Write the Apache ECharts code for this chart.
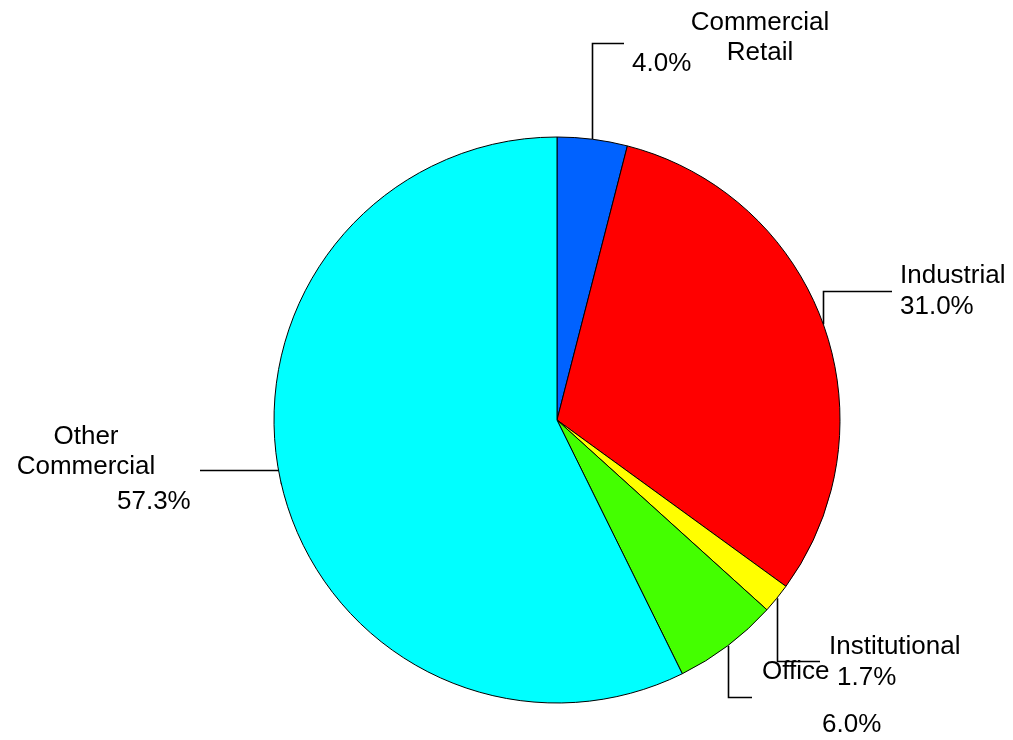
<!DOCTYPE html>
<html>
<head>
<meta charset="utf-8">
<script src="https://cdn.jsdelivr.net/npm/echarts@6/dist/echarts.min.js"></script>
<style>
html,body{margin:0;padding:0;background:#fff;}
#chart{width:1013px;height:740px;}
</style>
</head>
<body>
<div id="chart"></div>
<script>
// ---- data ----
const categories = ['Commercial\nRetail', 'Industrial', 'Institutional', 'Office', 'Other\nCommercial'];
const values = [4.0, 31.0, 1.7, 6.0, 57.3];
const colors = ['#0062FF', '#FF0000', '#FFFF00', '#44FF00', '#00FFFF'];

// ---- label layout (positions, separate from data) ----
const nameLabelPos = [
  {x: 760, y: 38, align: 'center'},
  {x: 900, y: 276, align: 'left'},
  {x: 829, y: 647, align: 'left'},
  {x: 762, y: 672, align: 'left'},
  {x: 86, y: 452, align: 'center'}
];
const pctLabelPos = [
  {x: 632, y: 64, align: 'left'},
  {x: 900, y: 307, align: 'left'},
  {x: 837, y: 678, align: 'left'},
  {x: 822, y: 725, align: 'left'},
  {x: 117, y: 502, align: 'left'}
];
const elbow = [
  {y: 43, x: 624},
  {y: 291, x: 892},
  {y: 661, x: 820},
  {y: 697, x: 752},
  {y: 470, x: 200}
];

const chart = echarts.init(document.getElementById('chart'), null, {renderer: 'canvas'});
const data = categories.map((c, i) => ({name: c, value: values[i], itemStyle: {color: colors[i]}}));
const textStyle = {fontFamily: 'Liberation Sans, Arial, sans-serif', fontSize: 26, color: '#000', lineHeight: 30};

chart.setOption({
  animation: false,
  backgroundColor: '#fff',
  series: [
    {
      type: 'pie',
      center: [557, 420],
      radius: 283,
      startAngle: 90,
      clockwise: true,
      avoidLabelOverlap: false,
      itemStyle: {borderColor: '#000', borderWidth: 1},
      emphasis: {disabled: true},
      label: Object.assign({show: true, position: 'outside', formatter: '{b}', align: 'center'}, textStyle),
      labelLine: {show: true, length: 10, length2: 10, lineStyle: {color: '#000', width: 1.6}},
      labelLayout: function (p) {
        const i = p.dataIndex;
        const pos = nameLabelPos[i];
        const res = {x: pos.x, y: pos.y, align: pos.align, verticalAlign: 'middle'};
        if (p.labelLinePoints && p.labelLinePoints[0]) {
          const a = p.labelLinePoints[0];
          res.labelLinePoints = [[Math.round(a[0]) + 0.5, a[1]], [Math.round(a[0]) + 0.5, elbow[i].y + 0.5], [elbow[i].x, elbow[i].y + 0.5]];
        }
        return res;
      },
      data: data
    },
    {
      type: 'pie',
      silent: true,
      center: [557, 420],
      radius: 283,
      startAngle: 90,
      clockwise: true,
      avoidLabelOverlap: false,
      itemStyle: {color: 'rgba(0,0,0,0)', borderWidth: 0},
      emphasis: {disabled: true},
      label: Object.assign({show: true, position: 'outside', formatter: function (p) { return p.value.toFixed(1) + '%'; }}, textStyle),
      labelLine: {show: false},
      labelLayout: function (p) {
        const pos = pctLabelPos[p.dataIndex];
        return {x: pos.x, y: pos.y, align: pos.align, verticalAlign: 'middle'};
      },
      data: categories.map((c, i) => ({name: c, value: values[i]}))
    }
  ]
});
</script>
</body>
</html>
